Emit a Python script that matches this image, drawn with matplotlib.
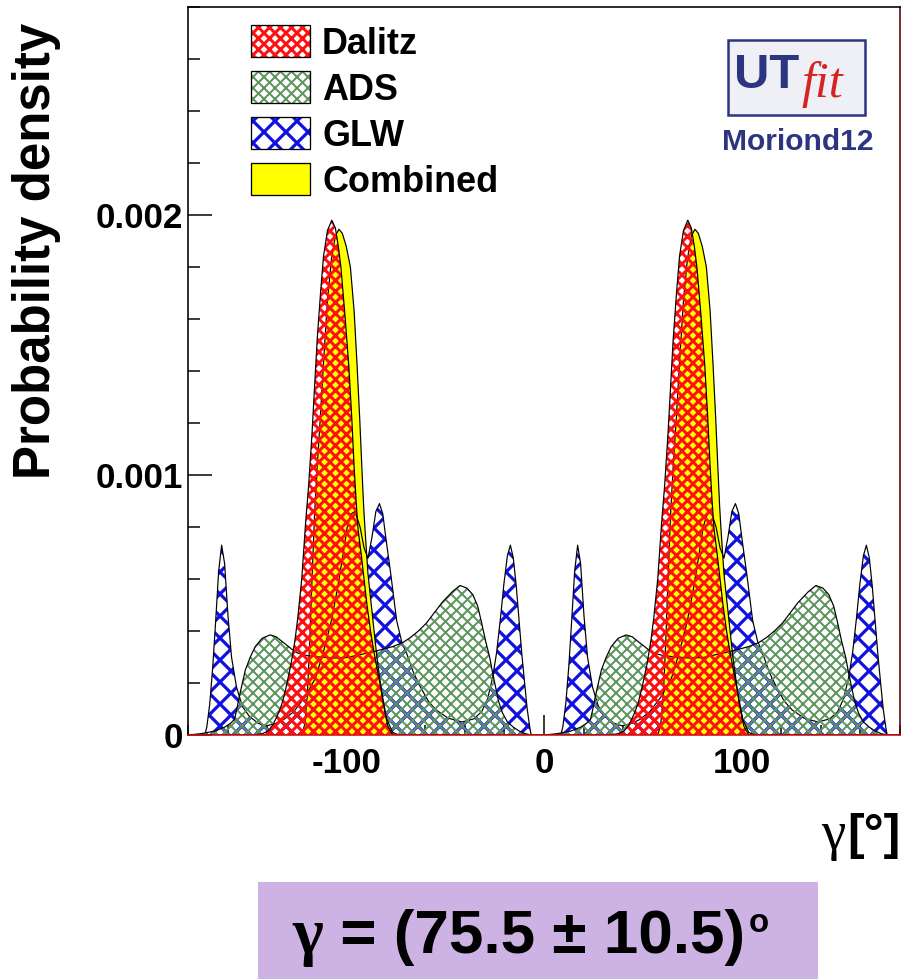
import matplotlib
matplotlib.use("Agg")
import matplotlib as mpl
import matplotlib.pyplot as plt
from matplotlib.patches import Rectangle
from matplotlib.ticker import FixedLocator, FixedFormatter, MultipleLocator
import numpy as np

DPI = 132
W, H = 904, 979
UNIT = 1e-4  # values below are in units of 1e-4

# ---------------- data ----------------
GLW_X = [-180, -171.5, -170.5, -169, -167.5, -166, -164.5, -163, -161.5, -159.8, -158, -155.5, -152.5, -149,
         -144.5, -140.5, -135.5, -131.5, -126.5, -120.5, -115.5, -111.5, -107.5, -104.5, -101.5, -99.5, -97.5,
         -95.5, -93, -91, -89, -87, -85, -83.2, -81.5, -80, -77.5, -74.5, -72, -69.5, -66, -62.5, -58.5, -54.5,
         -48.5, -41.5, -35.5, -31.5, -28.5, -26, -24, -22, -20.3, -18.5, -17, -15.5, -14, -12.5, -11.2, -9.8,
         -8.5, -7.2, -6.5,
         0, 8.5, 9.5, 11, 12.5, 14, 15.5, 17, 18.5, 20.2, 22, 24.5, 27.5, 31,
         35.5, 39.5, 44.5, 48.5, 53.5, 59.5, 64.5, 68.5, 72.5, 75.5, 78.5, 80.5, 82.5,
         84.5, 87, 89, 91, 93, 95, 96.8, 98.5, 100, 102.5, 105.5, 108, 110.5, 114, 117.5, 121.5, 125.5,
         131.5, 138.5, 144.5, 148.5, 151.5, 154, 156, 158, 159.7, 161.5, 163, 164.5, 166, 167.5, 168.8, 170.2,
         171.5, 172.8, 173.5, 180]
GLW_Y = [0, 0, 0.3, 1.2, 2.6, 4.4, 6.3, 7.3, 6.6, 4.6, 3.0, 1.85, 1.1, 0.72,
         0.45, 0.35, 0.45, 0.6, 0.9, 1.5, 2.2, 3.2, 4.4, 5.6, 7.0, 8.0, 8.5,
         8.6, 8.0, 7.2, 6.8, 7.6, 8.6, 8.9, 8.5, 7.6, 6.2, 4.4, 3.6, 3.15, 2.4, 1.85, 1.3, 0.96,
         0.65, 0.5, 0.62, 0.9, 1.4, 2.2, 3.15, 4.5, 5.8, 6.9, 7.3, 6.8, 5.7, 4.3, 3.1, 2.0,
         1.0, 0.3, 0,
         0, 0, 0.3, 1.2, 2.6, 4.4, 6.3, 7.3, 6.6, 4.6, 3.0, 1.85, 1.1, 0.72,
         0.45, 0.35, 0.45, 0.6, 0.9, 1.5, 2.2, 3.2, 4.4, 5.6, 7.0, 8.0, 8.5,
         8.6, 8.0, 7.2, 6.8, 7.6, 8.6, 8.9, 8.5, 7.6, 6.2, 4.4, 3.6, 3.15, 2.4, 1.85, 1.3, 0.96,
         0.65, 0.5, 0.62, 0.9, 1.4, 2.2, 3.15, 4.5, 5.8, 6.9, 7.3, 6.8, 5.7, 4.3, 3.1, 2.0,
         1.0, 0.3, 0, 0]

ADS_X = [-180, -173.5, -166.5, -161.5, -158.5, -156.5, -155.3, -154, -152.5, -151, -148.5, -146, -142.5,
         -138.5, -135.5, -132.5, -130, -127.5, -124.5, -119.5, -113.5, -106.5, -99.5, -92.5, -86.5, -81.5,
         -76.5, -71.5, -67.5, -63.5, -59.5, -55.5, -51.5, -46.5, -42.5, -39, -36, -33.5, -31.5, -29.5, -27.5,
         -26, -24.5, -23, -21, -18.5, -15.5, -12.5, -9.5, -6.5,
         0, 6.5, 13.5, 18.5, 21.5, 23.5, 24.7, 26, 27.5, 29, 31.5, 34, 37.5,
         41.5, 44.5, 47.5, 50, 52.5, 55.5, 60.5, 66.5, 73.5, 80.5, 87.5, 93.5, 98.5,
         103.5, 108.5, 112.5, 116.5, 120.5, 124.5, 128.5, 133.5, 137.5, 141, 144, 146.5, 148.5, 150.5, 152.5,
         154, 155.5, 157, 159, 161.5, 164.5, 167.5, 170.5, 173.5, 180]
ADS_Y = [0, 0.05, 0.15, 0.3, 0.45, 0.6, 1.0, 1.5, 2.0, 2.5, 3.0, 3.4, 3.72,
         3.85, 3.78, 3.6, 3.45, 3.3, 3.15, 3.05, 3.0, 2.96, 2.98, 3.1, 3.2, 3.3,
         3.4, 3.55, 3.75, 4.0, 4.3, 4.7, 5.1, 5.5, 5.75, 5.65, 5.4, 4.95, 4.3, 3.6, 3.0,
         2.4, 1.85, 1.3, 0.85, 0.5, 0.3, 0.15, 0.05, 0,
         0, 0.05, 0.15, 0.3, 0.45, 0.6, 1.0, 1.5, 2.0, 2.5, 3.0, 3.4, 3.72,
         3.85, 3.78, 3.6, 3.45, 3.3, 3.15, 3.05, 3.0, 2.96, 2.98, 3.1, 3.2, 3.3,
         3.4, 3.55, 3.75, 4.0, 4.3, 4.7, 5.1, 5.5, 5.75, 5.65, 5.4, 4.95, 4.3, 3.6, 3.0,
         2.4, 1.85, 1.3, 0.85, 0.5, 0.3, 0.15, 0.05, 0, 0]

DALITZ_X = [-180, -146.5, -142.5, -139.5, -137, -134.5, -132.5, -130.5, -128, -126, -124.5, -122.5, -120.5,
            -119, -117.3, -114.7, -113, -111.5, -109.5, -107.3, -105.5, -104, -102.7, -100.7, -98.7, -97.2,
            -96, -95, -94, -92.5, -91, -89.5, -87.7, -86, -84, -82.5, -80.5, -79, -76.5,
            0, 33.5, 37.5, 40.5, 43, 45.5, 47.5, 49.5, 52, 54, 55.5, 57.5, 59.5,
            61, 62.7, 65.3, 67, 68.5, 70.5, 72.7, 74.5, 76, 77.3, 79.3, 81.3, 82.8,
            84, 85, 86, 87.5, 89, 90.5, 92.3, 94, 96, 97.5, 99.5, 101, 103.5, 180]
DALITZ_Y = [0, 0, 0.05, 0.15, 0.4, 0.8, 1.2, 1.8, 2.7, 3.6, 4.5, 6.0, 8.2,
            9.6, 11.6, 15.2, 17.0, 18.4, 19.4, 19.8, 19.5, 18.8, 18.0, 16.2, 14.2, 12.2,
            10.3, 9.0, 7.9, 7.0, 6.0, 5.0, 4.0, 3.2, 2.4, 1.8, 0.9, 0.35, 0,
            0, 0, 0.05, 0.15, 0.4, 0.8, 1.2, 1.8, 2.7, 3.6, 4.5, 6.0, 8.2,
            9.6, 11.6, 15.2, 17.0, 18.4, 19.4, 19.8, 19.5, 18.8, 18.0, 16.2, 14.2, 12.2,
            10.3, 9.0, 7.9, 7.0, 6.0, 5.0, 4.0, 3.2, 2.4, 1.8, 0.9, 0.35, 0, 0]

COMB_X = [-180, -122.5, -121, -119.7, -118.5, -117.3, -116, -114.7, -113.1, -111.5, -109.5, -107.5, -105.5,
          -103.7, -102, -100, -97.9, -96, -94.5, -93.2, -92.1, -91.2, -90.5, -89, -86.9, -84.5, -82, -79.5,
          -76.5, -73.5,
          0, 57.5, 59, 60.3, 61.5, 62.7, 64, 65.3, 66.9, 68.5, 70.5, 72.5, 74.5,
          76.3, 78, 80, 82.1, 84, 85.5, 86.8, 87.9, 88.8, 89.5, 91, 93.1, 95.5, 98, 100.5,
          103.5, 106.5, 180]
COMB_Y = [0, 0, 0.4, 1.5, 3.5, 6.0, 8.5, 10.3, 12.2, 14.3, 16.7, 18.3, 19.2,
          19.45, 19.3, 18.8, 18.0, 16.3, 14.2, 12.2, 10.3, 8.8, 7.9, 6.2, 4.7, 3.0, 1.6, 0.6,
          0.1, 0,
          0, 0, 0.4, 1.5, 3.5, 6.0, 8.5, 10.3, 12.2, 14.3, 16.7, 18.3, 19.2,
          19.45, 19.3, 18.8, 18.0, 16.3, 14.2, 12.2, 10.3, 8.8, 7.9, 6.2, 4.7, 3.0, 1.6, 0.6,
          0.1, 0, 0]

LABELS = ["Dalitz", "ADS", "GLW", "Combined"]
XTICKS = [-100, 0, 100]
XTICK_LABELS = ["-100", "0", "100"]
YTICKS = [0, 0.001, 0.002]
YTICK_LABELS = ["0", "0.001", "0.002"]
RESULT = " = (75.5 \u00b1 10.5)"

# ---------------- style ----------------
RED = "#ff1010"
GREEN = "#5e955e"
BLUE = "#1010e0"
YELLOW = "#ffff00"
NAVY = "#2c3580"

plt.rcParams['font.family'] = ['Liberation Sans', 'DejaVu Sans']


def pt(px):
    """pixels -> points"""
    return px * 72.0 / DPI


fig = plt.figure(figsize=((W + 0.01) / DPI, (H + 0.01) / DPI), dpi=DPI)
fig.patch.set_facecolor("white")
ax = fig.add_axes([188 / W, 1 - 735 / H, 712 / W, 728 / H])
ax.set_xlim(-180, 180)
ax.set_ylim(0, 0.0028)


def hatched(x, y, color, hatch, hlw, z):
    mpl.rcParams['hatch.linewidth'] = hlw
    yy = np.asarray(y, float) * UNIT
    c = ax.fill_between(np.asarray(x, float), 0, yy, facecolor="none", edgecolor=color,
                        hatch=hatch, linewidth=0, zorder=z)
    if hasattr(c, "set_hatch_linewidth"):
        c.set_hatch_linewidth(hlw)
    return c


def outline(x, y, z):
    ax.plot(np.asarray(x, float), np.asarray(y, float) * UNIT, color="black", lw=pt(1.2), zorder=z)


# GLW (blue), below the combined fill
hatched(GLW_X, GLW_Y, BLUE, "xx", pt(3.2), 2)
# Combined (yellow, opaque)
ax.fill_between(np.asarray(COMB_X, float), 0, np.asarray(COMB_Y, float) * UNIT,
                facecolor=YELLOW, edgecolor="none", zorder=3)
outline(GLW_X, GLW_Y, 3.5)
# ADS (green)
hatched(ADS_X, ADS_Y, GREEN, "xxxx", pt(2.0), 4)
outline(ADS_X, ADS_Y, 4.5)
outline(COMB_X, COMB_Y, 4.6)
# Dalitz (red)
hatched(DALITZ_X, DALITZ_Y, RED, "xxxx", pt(3.0), 5)
outline(DALITZ_X, DALITZ_Y, 5.5)

# axes / ticks
ax.xaxis.set_major_locator(FixedLocator(XTICKS))
ax.xaxis.set_major_formatter(FixedFormatter(XTICK_LABELS))
ax.xaxis.set_minor_locator(MultipleLocator(20))
ax.yaxis.set_major_locator(FixedLocator(YTICKS))
ax.yaxis.set_major_formatter(FixedFormatter(YTICK_LABELS))
ax.yaxis.set_minor_locator(MultipleLocator(0.0002))
ax.tick_params(axis="both", which="both", direction="in", top=False, right=False, width=pt(1.5), color="black")
ax.tick_params(axis="x", which="major", length=pt(20), pad=pt(12), labelsize=pt(35))
ax.tick_params(axis="x", which="minor", length=pt(10))
ax.tick_params(axis="y", which="major", length=pt(24), pad=pt(5), labelsize=pt(35))
ax.tick_params(axis="y", which="minor", length=pt(12))
for lab in ax.get_xticklabels() + ax.get_yticklabels():
    lab.set_fontweight("bold")
for s in ax.spines.values():
    s.set_linewidth(pt(1.6))
    s.set_zorder(7)
ax.spines["bottom"].set_color("#d01010")
ax.spines["right"].set_color("#5a0000")


# legend (patches + text in axes coordinates)
def ax_px(xp, yp):
    return ((xp - 188) / 712.0, (735 - yp) / 728.0)


rows = [41, 87, 133, 179]
styles = [(RED, "xxxx", pt(3.0), "white"), (GREEN, "xxxx", pt(2.0), "white"),
          (BLUE, "xx", pt(3.2), "white"), (None, None, 0, YELLOW)]
for lab, cy, (col, hat, hlw, face) in zip(LABELS, rows, styles):
    x0, y0 = ax_px(251, cy + 16)
    wbox, hbox = 59 / 712.0, 32 / 728.0
    if hat:
        mpl.rcParams['hatch.linewidth'] = hlw
        r = Rectangle((x0, y0), wbox, hbox, transform=ax.transAxes, facecolor=face, edgecolor=col,
                      hatch=hat, lw=0, zorder=8)
        if hasattr(r, "set_hatch_linewidth"):
            r.set_hatch_linewidth(hlw)
        ax.add_patch(r)
    else:
        ax.add_patch(Rectangle((x0, y0), wbox, hbox, transform=ax.transAxes, facecolor=face,
                               edgecolor="none", zorder=8))
    ax.add_patch(Rectangle((x0, y0), wbox, hbox, transform=ax.transAxes, fill=False,
                           edgecolor="black", lw=pt(1.3), zorder=9))
    tx, ty = ax_px(322, cy + 13)
    ax.text(tx, ty, lab, transform=ax.transAxes, fontsize=pt(36), fontweight="bold",
            ha="left", va="baseline", zorder=9)


# UTfit logo
def fxy(xp, yp):
    return (xp / W, 1 - yp / H)


renderer = fig.canvas.get_renderer()
lx, ly = fxy(728, 115)
fig.patches.append(Rectangle((lx, ly), 137 / W, 75 / H, transform=fig.transFigure,
                             facecolor="#eef0f6", edgecolor=NAVY, lw=pt(2.5), zorder=10))
tu = fig.text(*fxy(734, 88), "UT", fontsize=pt(49), fontweight="bold", color=NAVY, ha="left",
              va="baseline", family=["Liberation Sans Narrow", "Liberation Sans"], zorder=11)
bu = tu.get_window_extent(renderer)
fig.text(bu.x1 / W + 2 / W, 1 - 97 / H, "fit", fontsize=pt(50), fontstyle="italic", color="#d42424",
         ha="left", va="baseline", family=["Liberation Serif", "DejaVu Serif"], zorder=11)
fig.text(*fxy(798, 150), "Moriond12", fontsize=pt(30), fontweight="bold", color=NAVY, ha="center",
         va="baseline", zorder=11)

# axis titles
fig.text(*fxy(36, 251), "Probability density", fontsize=pt(51), fontweight="bold", rotation=90,
         ha="center", va="center")
tb = fig.text(*fxy(900, 849), "[\u00b0]", fontsize=pt(50), fontweight="bold", ha="right", va="baseline")
bb = tb.get_window_extent(renderer)
fig.text(bb.x0 / W - 1 / W, 1 - 849 / H, "\u03b3", fontsize=pt(55), ha="right", va="baseline",
         family=["Liberation Serif", "DejaVu Serif"])

# result box
bx, by = fxy(258, 979)
fig.patches.append(Rectangle((bx, by), 560 / W, 97 / H, transform=fig.transFigure,
                             facecolor="#ccb3e4", edgecolor="none", zorder=1))
tg = fig.text(*fxy(292, 953), "\u03b3", fontsize=pt(66), fontweight="bold", ha="left", va="baseline",
              family=["Liberation Serif", "DejaVu Serif"], zorder=2)
bg = tg.get_window_extent(renderer)
t1 = fig.text(bg.x1 / W, 1 - 953 / H, RESULT, fontsize=pt(62), fontweight="bold", ha="left",
              va="baseline", zorder=2)
b1 = t1.get_window_extent(renderer)
fig.text(b1.x1 / W + 4 / W, 1 - 932 / H, "o", fontsize=pt(33), fontweight="bold", ha="left",
         va="baseline", zorder=2)

fig.savefig("out.png", dpi=DPI, facecolor="white")
